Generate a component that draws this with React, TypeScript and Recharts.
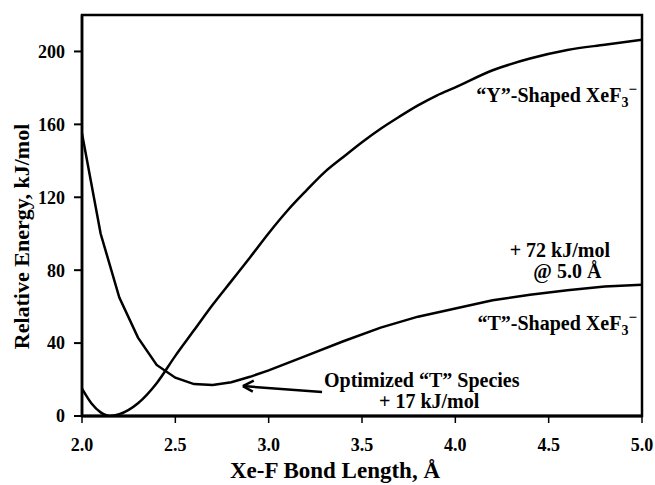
import { ComposedChart, Line, XAxis, YAxis, ReferenceLine, ReferenceArea, ReferenceDot, Label } from "recharts";

const xTicks = [2.0, 2.5, 3.0, 3.5, 4.0, 4.5, 5.0];
const yTicks = [0, 40, 80, 120, 160, 200];

// "T"-shaped XeF3- curve
const tX = [2.0, 2.1, 2.2, 2.3, 2.4, 2.5, 2.6, 2.7, 2.8, 2.9, 3.0, 3.2, 3.4, 3.6, 3.8, 4.0, 4.2, 4.4, 4.6, 4.8, 5.0];
const tE = [155, 100, 65, 43, 28, 21, 17.5, 17, 18.5, 21.5, 25, 33, 41, 48.5, 54.5, 59, 63.5, 66.5, 69, 71, 72];

// "Y"-shaped XeF3- curve
const yX = [2.0, 2.05, 2.1, 2.15, 2.2, 2.3, 2.4, 2.5, 2.6, 2.7, 2.8, 2.9, 3.0, 3.1, 3.2, 3.3, 3.4, 3.5, 3.6, 3.7, 3.8, 3.9, 4.0, 4.2, 4.4, 4.6, 4.8, 5.0];
const yE = [15, 7, 2, 0, 1, 7, 18, 33, 47, 61, 74, 87, 100.3, 112.6, 123.5, 133.8, 142.1, 150.2, 157.6, 164.2, 170.4, 175.8, 180.3, 189.7, 196.1, 200.8, 203.7, 206.4];

const tData = tX.map((x, i) => ({ x, e: tE[i] }));
const yData = yX.map((x, i) => ({ x, e: yE[i] }));

const FONT = '"Times New Roman", "Liberation Serif", serif';

const note = (lines: any, anchor: string) => (p: any) => (
  <text x={p.cx} y={p.cy} textAnchor={anchor} fontFamily={FONT} fontWeight="bold" fontSize={20} fill="#000">
    {lines}
  </text>
);

const xef3 = (name: string) => (
  <>
    {name}-Shaped XeF
    <tspan dy={5} fontSize={14}>3</tspan>
    <tspan dy={-13} fontSize={15}>−</tspan>
  </>
);

const App = () => {
  return (
    <div style={{ position: "absolute", left: 0, top: 0 }}>
      <ComposedChart width={655} height={485} margin={{ top: 15, right: 13, bottom: 39, left: 0 }}>
        <XAxis
          type="number"
          dataKey="x"
          domain={[2, 5]}
          ticks={xTicks}
          height={30}
          tickFormatter={(v: number) => v.toFixed(1)}
          allowDataOverflow
          axisLine={{ stroke: "#000", strokeWidth: 3 }}
          tickLine={{ stroke: "#000", strokeWidth: 1.5 }}
          tickSize={7}
          tickMargin={15}
          tick={{ fill: "#000", fontSize: 18, fontWeight: "bold", fontFamily: FONT }}
        >
          <Label
            content={(p: any) => (
              <text x={p.viewBox.x + 253} y={p.viewBox.y + 62} textAnchor="middle" fontFamily={FONT} fontWeight="bold" fontSize={23} fill="#000">
                Xe-F Bond Length, Å
              </text>
            )}
          />
        </XAxis>
        <YAxis
          type="number"
          domain={[0, 220]}
          ticks={yTicks}
          width={82}
          allowDataOverflow
          axisLine={{ stroke: "#000", strokeWidth: 2.5 }}
          tickLine={{ stroke: "#000", strokeWidth: 2 }}
          tickSize={8}
          tickMargin={9}
          tick={{ fill: "#000", fontSize: 18, fontWeight: "bold", fontFamily: FONT }}
        >
          <Label
            content={(p: any) => {
              const cx = p.viewBox.x + 29;
              const cy = p.viewBox.y + p.viewBox.height / 2 + 21;
              return (
                <text x={cx} y={cy} transform={`rotate(-90 ${cx} ${cy})`} textAnchor="middle" fontFamily={FONT} fontWeight="bold" fontSize={22} fill="#000">
                  Relative Energy, kJ/mol
                </text>
              );
            }}
          />
        </YAxis>
        <ReferenceArea x1={2} x2={5} y1={0} y2={220} fill="none" stroke="#000" strokeWidth={2.5} ifOverflow="visible" />
        <Line data={tData} dataKey="e" type="linear" stroke="#000" strokeWidth={2.5} dot={false} isAnimationActive={false} />
        <Line data={yData} dataKey="e" type="monotone" stroke="#000" strokeWidth={2.5} dot={false} isAnimationActive={false} />
        <ReferenceLine segment={[{ x: 2.862, y: 16.4 }, { x: 3.286, y: 13.2 }]} stroke="#000" strokeWidth={2.5} />
        <ReferenceLine segment={[{ x: 2.862, y: 16.4 }, { x: 2.92, y: 19.4 }]} stroke="#000" strokeWidth={2.5} />
        <ReferenceLine segment={[{ x: 2.862, y: 16.4 }, { x: 2.915, y: 13.4 }]} stroke="#000" strokeWidth={2.5} />
        <ReferenceDot x={4.973} y={172} r={0} shape={note(xef3("“Y”"), "end")} />
        <ReferenceDot x={4.973} y={47} r={0} shape={note(xef3("“T”"), "end")} />
        <ReferenceDot x={4.56} y={87} r={0} shape={note("+ 72 kJ/mol", "middle")} />
        <ReferenceDot x={4.6} y={75.5} r={0} shape={note("@ 5.0 Å", "middle")} />
        <ReferenceDot x={3.82} y={15.9} r={0} shape={note("Optimized “T” Species", "middle")} />
        <ReferenceDot x={3.86} y={4.4} r={0} shape={note("+ 17 kJ/mol", "middle")} />
      </ComposedChart>
    </div>
  );
};

export default App;
